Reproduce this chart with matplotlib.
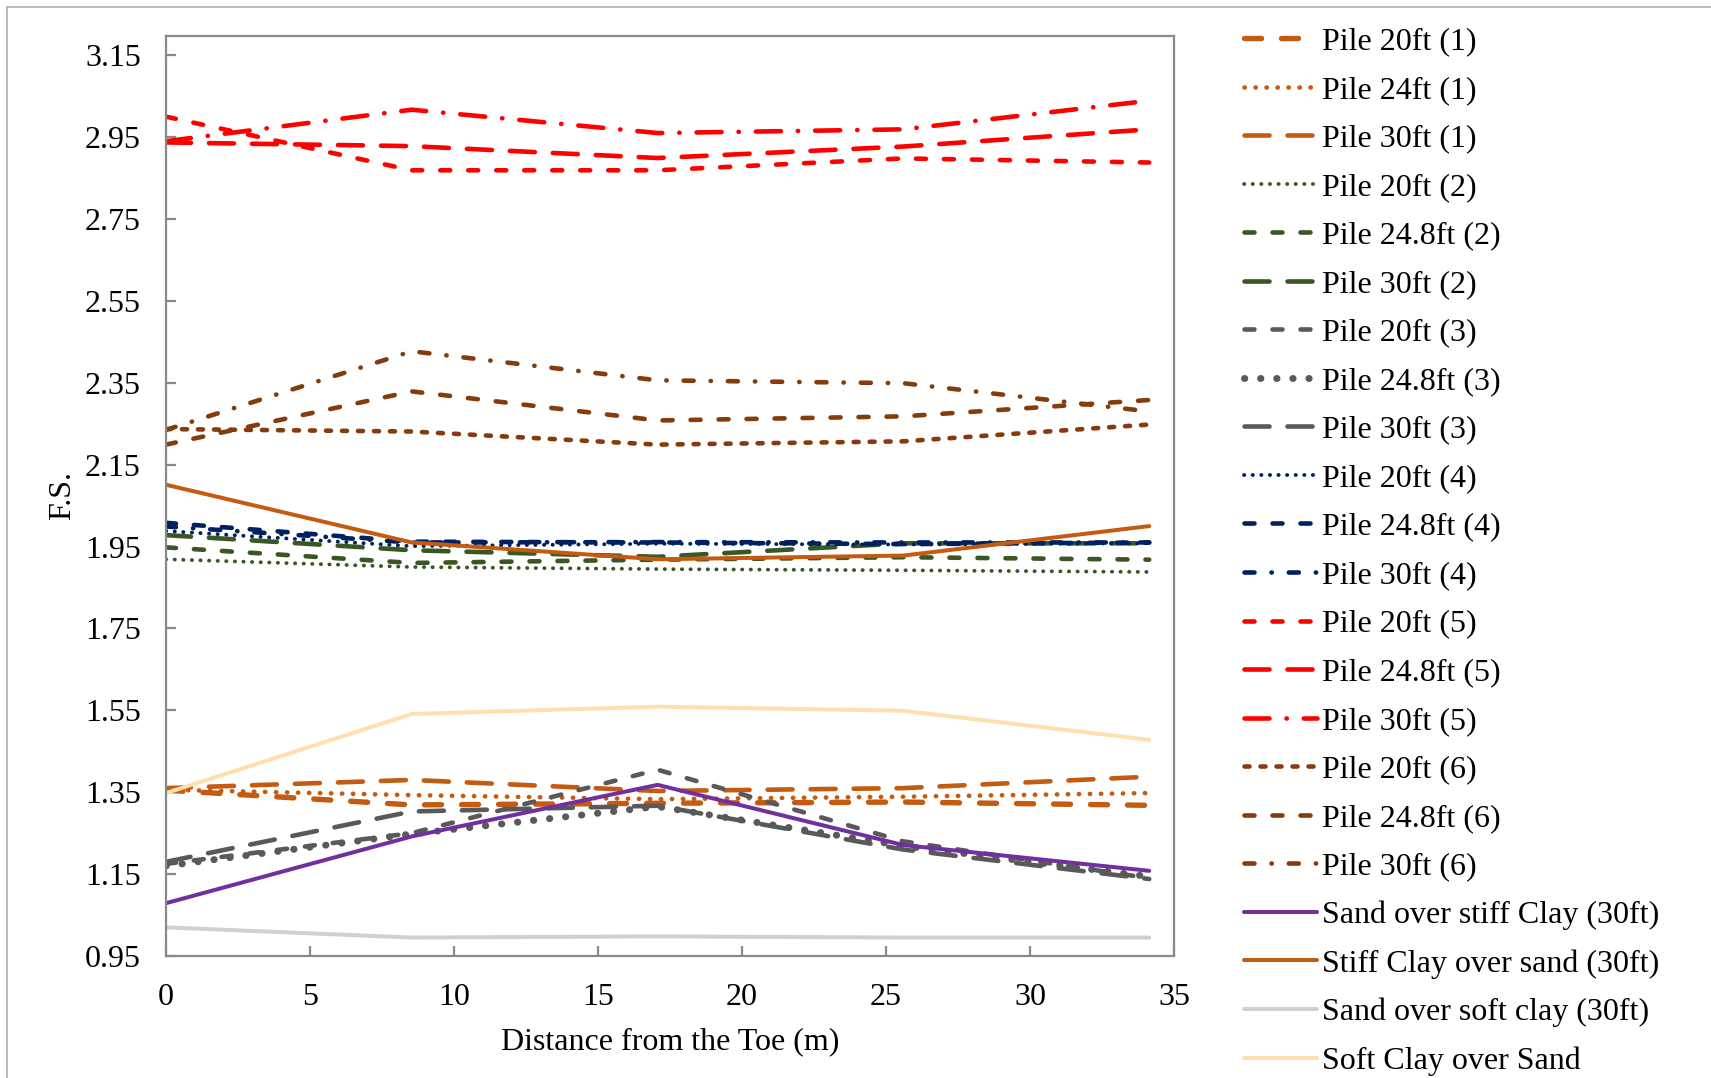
import matplotlib
matplotlib.use("Agg")
import matplotlib.pyplot as plt
from matplotlib.patches import Rectangle
from matplotlib.ticker import FormatStrFormatter

plt.rcParams["font.family"] = ["Liberation Serif", "DejaVu Serif"]

W, H, DPI = 1711, 1078, 100

# Distance from the toe (m) of each analysed section
distance = [0, 8.53, 17.07, 25.6, 34.14]

# Factor of safety per case
pile_20ft_1 = [1.355, 1.319, 1.323, 1.326, 1.318]
pile_24ft_1 = [1.356, 1.343, 1.333, 1.339, 1.348]
pile_30ft_1 = [1.360, 1.380, 1.353, 1.360, 1.388]
pile_20ft_2 = [1.919, 1.900, 1.895, 1.892, 1.888]
pile_24_8ft_2 = [1.948, 1.910, 1.918, 1.924, 1.918]
pile_30ft_2 = [1.978, 1.941, 1.925, 1.958, 1.958]
pile_20ft_3 = [1.175, 1.250, 1.405, 1.230, 1.140]
pile_24_8ft_3 = [1.170, 1.248, 1.315, 1.219, 1.144]
pile_30ft_3 = [1.180, 1.303, 1.317, 1.210, 1.138]
pile_20ft_4 = [1.988, 1.951, 1.957, 1.955, 1.958]
pile_24_8ft_4 = [2.008, 1.962, 1.960, 1.956, 1.960]
pile_30ft_4 = [1.999, 1.960, 1.961, 1.960, 1.960]
pile_20ft_5 = [3.000, 2.869, 2.869, 2.898, 2.888]
pile_24_8ft_5 = [2.937, 2.928, 2.899, 2.927, 2.969]
pile_30ft_5 = [2.940, 3.017, 2.960, 2.969, 3.039]
pile_20ft_6 = [2.237, 2.231, 2.199, 2.207, 2.248]
pile_24_8ft_6 = [2.199, 2.329, 2.258, 2.268, 2.308]
pile_30ft_6 = [2.235, 2.427, 2.356, 2.349, 2.280]
sand_over_stiff_clay = [1.079, 1.242, 1.368, 1.221, 1.158]
stiff_clay_over_sand = [2.101, 1.960, 1.919, 1.928, 2.000]
sand_over_soft_clay = [1.020, 0.995, 0.998, 0.995, 0.995]
soft_clay_over_sand = [1.348, 1.541, 1.559, 1.549, 1.478]

labels = [
    "Pile 20ft (1)", "Pile 24ft (1)", "Pile 30ft (1)",
    "Pile 20ft (2)", "Pile 24.8ft (2)", "Pile 30ft (2)",
    "Pile 20ft (3)", "Pile 24.8ft (3)", "Pile 30ft (3)",
    "Pile 20ft (4)", "Pile 24.8ft (4)", "Pile 30ft (4)",
    "Pile 20ft (5)", "Pile 24.8ft (5)", "Pile 30ft (5)",
    "Pile 20ft (6)", "Pile 24.8ft (6)", "Pile 30ft (6)",
    "Sand over stiff Clay (30ft)", "Stiff Clay over sand (30ft)",
    "Sand over soft clay (30ft)", "Soft Clay over Sand",
]
values = [
    pile_20ft_1, pile_24ft_1, pile_30ft_1,
    pile_20ft_2, pile_24_8ft_2, pile_30ft_2,
    pile_20ft_3, pile_24_8ft_3, pile_30ft_3,
    pile_20ft_4, pile_24_8ft_4, pile_30ft_4,
    pile_20ft_5, pile_24_8ft_5, pile_30ft_5,
    pile_20ft_6, pile_24_8ft_6, pile_30ft_6,
    sand_over_stiff_clay, stiff_clay_over_sand,
    sand_over_soft_clay, soft_clay_over_sand,
]

ORANGE = "#C55A11"
GREEN = "#385723"
GREY = "#595959"
NAVY = "#002060"
RED = "#FF0000"
BROWN = "#843C0C"

# dash patterns in pixels (on, off, ...), drawn with round caps
DASH = (10, 18)
LONG = (25, 18)
LONG_DOT = (25, 17, 0.3, 17)
DASH_DOT = (10, 17, 0.3, 17)
SYS_DASH = (5, 11)
DOT_S = (0.3, 8.3)
DOT_M = (0.3, 10.7)
DOT_L = (0.3, 15.8)
DASH_W = (17, 20)

# (color, line width px, dash pattern px or None for solid)
styles = [
    (ORANGE, 5.4, DASH_W), (ORANGE, 4.6, DOT_M), (ORANGE, 4.6, LONG),
    (GREEN, 3.8, DOT_S), (GREEN, 4.6, DASH), (GREEN, 4.6, LONG),
    (GREY, 4.6, DASH), (GREY, 7.0, DOT_L), (GREY, 4.6, LONG),
    (NAVY, 3.8, DOT_S), (NAVY, 4.6, DASH), (NAVY, 4.6, DASH_DOT),
    (RED, 4.6, DASH), (RED, 4.6, LONG), (RED, 4.6, LONG_DOT),
    (BROWN, 4.6, SYS_DASH), (BROWN, 4.6, DASH), (BROWN, 4.6, DASH_DOT),
    ("#7030A0", 4.0, None), (ORANGE, 4.0, None),
    ("#D0D0D0", 4.0, None), ("#FFDFAE", 4.0, None),
]

PT = 72.0 / DPI  # points per pixel

fig = plt.figure(figsize=(W / DPI, H / DPI), dpi=DPI)
fig.patch.set_facecolor("white")

ax = fig.add_axes([166 / W, 1 - 956 / H, (1174 - 166) / W, (956 - 36) / H])

handles = []
for lab, vals, (col, lw_px, pat) in zip(labels, values, styles):
    if pat is None:
        ls = "-"
    else:
        ls = (0, tuple(p / lw_px for p in pat))
    (ln,) = ax.plot(distance, vals, color=col, lw=lw_px * PT, linestyle=ls,
                    dash_capstyle="round", solid_capstyle="round",
                    solid_joinstyle="round", dash_joinstyle="round", label=lab)
    handles.append(ln)

ax.set_xlim(0, 35)
ax.set_ylim(0.95, 3.197)
ax.set_xticks(range(0, 36, 5))
ax.set_yticks([0.95 + 0.2 * i for i in range(12)])
ax.yaxis.set_major_formatter(FormatStrFormatter("%.2f"))

spine_col = "#898989"
for s in ax.spines.values():
    s.set_color(spine_col)
    s.set_linewidth(2.2 * PT)
ax.tick_params(axis="both", direction="in", length=10 * PT, width=2.2 * PT,
               color=spine_col, labelsize=23, labelcolor="black")
ax.tick_params(axis="x", pad=19.5)
ax.tick_params(axis="y", pad=18)

ax.set_xlabel("Distance from the Toe (m)", fontsize=23, labelpad=11)
ax.set_ylabel("F.S.", fontsize=23, labelpad=6)

fig.legend(handles, labels, loc="upper left",
           bbox_to_anchor=(1244 / W, 1 - 27 / H), frameon=False,
           fontsize=23, handlelength=2.28, handletextpad=0.16,
           labelspacing=0.60, borderpad=0, borderaxespad=0)

# thin outer frame around the chart area
fig.patches.append(Rectangle((7, -20), W + 40, H - 7 + 20, transform=None,
                             fill=False, edgecolor="#A6A6A6", lw=1.5 * PT))

fig.savefig("out.png", dpi=DPI, facecolor="white")
